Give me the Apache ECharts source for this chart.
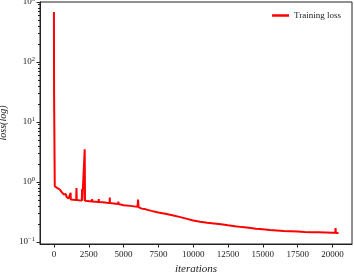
<!DOCTYPE html>
<html><head><meta charset="utf-8">
<script src="https://cdn.jsdelivr.net/npm/echarts@6/dist/echarts.min.js"></script>
<style>html,body{margin:0;padding:0;background:#fff}#c{width:354px;height:273px}</style>
</head><body><div id="c"></div>
<script>
const seriesName = 'Training loss';
const iterations = [0,10,60,150,250,300,360,420,450,530,600,650,700,800,850,900,960,1050,1190,1200,1210,1400,1600,1620,1640,1800,2000,2020,2040,2150,2210,2230,2400,2740,2750,2760,3000,3210,3220,3230,3500,3800,4000,4010,4020,4300,4620,4630,4640,5000,5500,6000,6040,6080,6300,6600,7000,7500,8000,8500,9000,9500,10000,10500,11000,11500,12000,12500,13000,13500,14000,14500,15000,15500,16000,16500,17000,17500,18000,18500,19000,19500,20000,20200,20220,20240,20430];
const loss = [680,32,0.85,0.80,0.79,0.76,0.74,0.75,0.72,0.69,0.67,0.70,0.62,0.60,0.63,0.57,0.55,0.53,0.51,0.66,0.51,0.505,0.50,0.79,0.50,0.495,0.49,0.76,0.49,0.485,3.5,0.485,0.48,0.475,0.52,0.475,0.47,0.465,0.52,0.465,0.46,0.45,0.445,0.55,0.445,0.44,0.43,0.47,0.43,0.41,0.40,0.385,0.51,0.38,0.36,0.35,0.33,0.31,0.295,0.28,0.262,0.245,0.228,0.218,0.21,0.204,0.198,0.19,0.183,0.177,0.172,0.167,0.163,0.159,0.156,0.153,0.151,0.149,0.147,0.146,0.145,0.144,0.143,0.142,0.17,0.141,0.141];
const xTicks = [0,2500,5000,7500,10000,12500,15000,17500,20000];
const yTicks = [0.1,1,10,100,1000];
const yExp = {0.1:'−1',1:'0',10:'1',100:'2',1000:'3'};
const yMinor = [];
[0.1,1,10,100].forEach(d=>{for(let k=2;k<=9;k++) yMinor.push(+(d*k).toPrecision(3));});

const font = '"Liberation Serif", "DejaVu Serif", serif';
const data = iterations.map((x,i)=>[x,loss[i]]);
const yMin = 0.0926, yMax = 1000;
const chart = echarts.init(document.getElementById('c'), null, {renderer:'canvas'});
chart.setOption({
  animation:false,
  grid:{left:40,right:2,top:2,bottom:29,containLabel:false,outerBoundsMode:'none',show:true,borderColor:'#222',borderWidth:1,backgroundColor:'transparent'},
  legend:{right:8,top:6,icon:'rect',itemWidth:17,itemHeight:2.5,itemGap:6,
    textStyle:{fontFamily:font,fontSize:9,color:'#222'},data:[seriesName]},
  xAxis:{type:'value',min:-1000,max:21400,
    name:'iterations',nameLocation:'middle',nameGap:20,
    nameTextStyle:{fontFamily:font,fontStyle:'italic',fontSize:11,color:'#222'},
    axisLine:{show:true,onZero:false,lineStyle:{color:'#222',width:1}},
    axisTick:{show:true,inside:false,length:3.5,lineStyle:{color:'#222'},customValues:xTicks},
    axisLabel:{fontFamily:font,fontSize:9,color:'#222',margin:6,customValues:xTicks,formatter:v=>String(Math.round(v))},
    splitLine:{show:false}},
  yAxis:[{type:'log',logBase:10,min:yMin,max:yMax,
    name:'loss(log)',nameLocation:'middle',nameGap:27,
    nameTextStyle:{fontFamily:font,fontStyle:'italic',fontSize:10,color:'#222'},
    axisLine:{show:true,onZero:false,lineStyle:{color:'#222',width:1}},
    axisTick:{show:true,inside:false,length:3.5,lineStyle:{color:'#222'},customValues:yTicks},
    axisLabel:{customValues:yTicks,margin:5,
      formatter:v=>{const key=Object.keys(yExp).find(k=>Math.abs(+k-v)/v<1e-6);return '{b|10}{s|'+yExp[key]+'}';},
      rich:{b:{fontFamily:font,fontSize:9,color:'#222'},s:{fontFamily:font,fontSize:6.5,color:'#222',verticalAlign:'top',padding:[0,0,6,0]}}},
    splitLine:{show:false}},
   {type:'log',logBase:10,min:yMin,max:yMax,position:'left',offset:0,
    axisLine:{show:false,onZero:false},
    axisTick:{show:true,inside:false,length:2,lineStyle:{color:'#222'},customValues:yMinor},
    axisLabel:{show:true,customValues:yMinor,formatter:()=>'',fontSize:1},splitLine:{show:false}}],
  series:[{name:seriesName,type:'line',data:data,showSymbol:false,symbol:'none',
    lineStyle:{color:'#ff0000',width:2},itemStyle:{color:'#ff0000'},clip:true}]
});
</script></body></html>
